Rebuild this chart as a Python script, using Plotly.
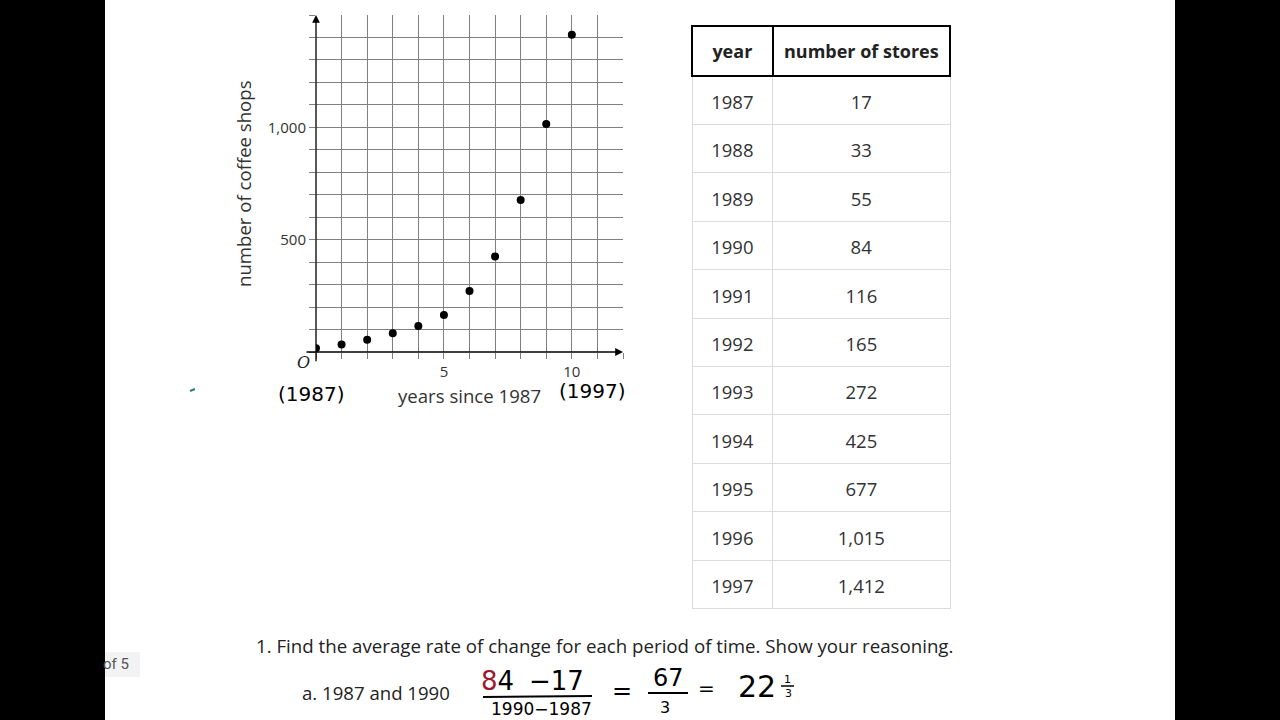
import plotly.graph_objects as go

years_since = [0, 1, 2, 3, 4, 5, 6, 7, 8, 9, 10]
shops = [17, 33, 55, 84, 116, 165, 272, 425, 677, 1015, 1412]
table_years = ["1987", "1988", "1989", "1990", "1991", "1992", "1993", "1994", "1995", "1996", "1997"]
table_stores = ["17", "33", "55", "84", "116", "165", "272", "425", "677", "1,015", "1,412"]
x_tickvals = list(range(0, 13))
x_ticktext = ["" if v not in (5, 10) else str(v) for v in x_tickvals]
y_tickvals = list(range(0, 1600, 100))
y_ticktext = ["" for _ in y_tickvals]
y_ticktext[5] = "500"
y_ticktext[10] = "1,000"

W, H = 1280, 720
def px(x):
    return x / W
def py(y):
    return 1 - y / H

FONT = "Open Sans"
TXT = "#333333"
PAD = "<span style='font-size:1px'> </span><br>"

fig = go.Figure()

fig.add_trace(go.Scatter(
    x=years_since, y=shops, mode="markers",
    marker=dict(color="black", size=8),
    xaxis="x", yaxis="y", showlegend=False, hoverinfo="skip"))

fig.add_trace(go.Table(
    domain=dict(x=[px(692), px(951)], y=[py(609), py(26)]),
    columnwidth=[81, 178],
    header=dict(
        values=[PAD + "<b>year</b>", PAD + "<b>number of stores</b>"],
        align="center", height=50,
        line=dict(color="black", width=2),
        fill=dict(color="white"),
        font=dict(family=FONT, size=18, color="#222222")),
    cells=dict(
        values=[[PAD + v for v in table_years], [PAD + v for v in table_stores]],
        align="center", height=48.4,
        line=dict(color="#dcdcdc", width=1),
        fill=dict(color="white"),
        font=dict(family=FONT, size=18.5, color=TXT))))

fig.update_layout(
    width=W, height=H,
    margin=dict(l=0, r=0, t=0, b=0),
    paper_bgcolor="white", plot_bgcolor="white",
    font=dict(family=FONT, color=TXT),
    xaxis=dict(
        domain=[px(316), px(623)], range=[0, 12],
        tickmode="array", tickvals=x_tickvals, ticktext=x_ticktext,
        showgrid=True, gridcolor="#808080", gridwidth=1,
        ticks="outside", ticklen=6, tickcolor="#808080", tickwidth=1,
        zeroline=False, showline=False,
        tickfont=dict(family=FONT, size=15, color=TXT),
        fixedrange=True),
    yaxis=dict(
        domain=[py(352), py(15)], range=[0, 1500],
        tickmode="array", tickvals=y_tickvals, ticktext=y_ticktext,
        showgrid=True, gridcolor="#808080", gridwidth=1,
        ticks="outside", ticklen=6, tickcolor="#808080", tickwidth=1,
        zeroline=False, showline=False,
        tickfont=dict(family=FONT, size=15, color=TXT),
        fixedrange=True),
)

# axis arrows
fig.add_annotation(x=12, y=0, ax=-0.43, ay=0, xref="x", yref="y", axref="x", ayref="y",
                   showarrow=True, arrowhead=2, arrowsize=1.2, arrowwidth=1.3, arrowcolor="black", text="")
fig.add_annotation(x=0, y=1500, ax=0, ay=-48, xref="x", yref="y", axref="x", ayref="y",
                   showarrow=True, arrowhead=2, arrowsize=1.2, arrowwidth=1.3, arrowcolor="black", text="")

def txt(x, y, s, size, color=TXT, family=FONT, xanchor="center", textangle=0):
    fig.add_annotation(x=px(x), y=py(y), xref="paper", yref="paper", text=s, showarrow=False,
                       font=dict(family=family, size=size, color=color),
                       xanchor=xanchor, yanchor="middle", textangle=textangle)

txt(303, 362, "<i>O</i>", 16, color="#222222", family="DejaVu Serif")
txt(469, 395, "years since 1987", 18.6)
txt(243, 184, "number of coffee shops", 18.6, textangle=-90)

HAND = "DejaVu Sans"
txt(311, 394, "(1987)", 20, color="black", family=HAND)
txt(592, 391, "(1997)", 20, color="black", family=HAND)

# tiny teal mark
fig.add_shape(type="line", xref="paper", yref="paper", x0=px(190), x1=px(195), y0=py(391), y1=py(389),
              line=dict(color="#2a7a8a", width=2))

# page counter pill
fig.add_shape(type="rect", xref="paper", yref="paper", x0=px(96), x1=px(140), y0=py(677), y1=py(652),
              fillcolor="#f3f3f3", line=dict(width=0), layer="below")
txt(116, 664, "of 5", 15, color="#555555", family="Roboto")

# black side bars
fig.add_shape(type="rect", xref="paper", yref="paper", x0=0, x1=px(105), y0=0, y1=1,
              fillcolor="black", line=dict(width=0), layer="above")
fig.add_shape(type="rect", xref="paper", yref="paper", x0=px(1175), x1=1, y0=0, y1=1,
              fillcolor="black", line=dict(width=0), layer="above")

txt(254, 645, "1. Find the average rate of change for each period of time. Show your reasoning.", 18.7,
    color="#222222", xanchor="left")
txt(300, 692, "a. 1987 and 1990", 18.6, color="#222222", xanchor="left")

# handwritten work
txt(497, 681, "<span style='color:#a01830'>8</span>4", 26, color="black", family=HAND)
txt(556, 681, "−17", 26, color="black", family=HAND)
fig.add_shape(type="line", xref="paper", yref="paper", x0=px(483), x1=px(592), y0=py(697), y1=py(696),
              line=dict(color="black", width=2))
txt(541, 709, "1990−1987", 17, color="black", family=HAND)
txt(622, 691, "=", 24, color="black", family=HAND)
txt(668, 678, "67", 24, color="black", family=HAND)
fig.add_shape(type="line", xref="paper", yref="paper", x0=px(648), x1=px(688), y0=py(693), y1=py(693),
              line=dict(color="black", width=2))
txt(665, 707, "3", 16, color="black", family=HAND)
txt(706, 688, "=", 20, color="black", family=HAND)
txt(757, 686, "22", 30, color="black", family=HAND)
txt(787, 679, "1", 11, color="black", family=HAND)
fig.add_shape(type="line", xref="paper", yref="paper", x0=px(781), x1=px(794), y0=py(686), y1=py(686),
              line=dict(color="black", width=1.5))
txt(788, 693, "3", 11, color="black", family=HAND)

fig.write_html("out.html")
